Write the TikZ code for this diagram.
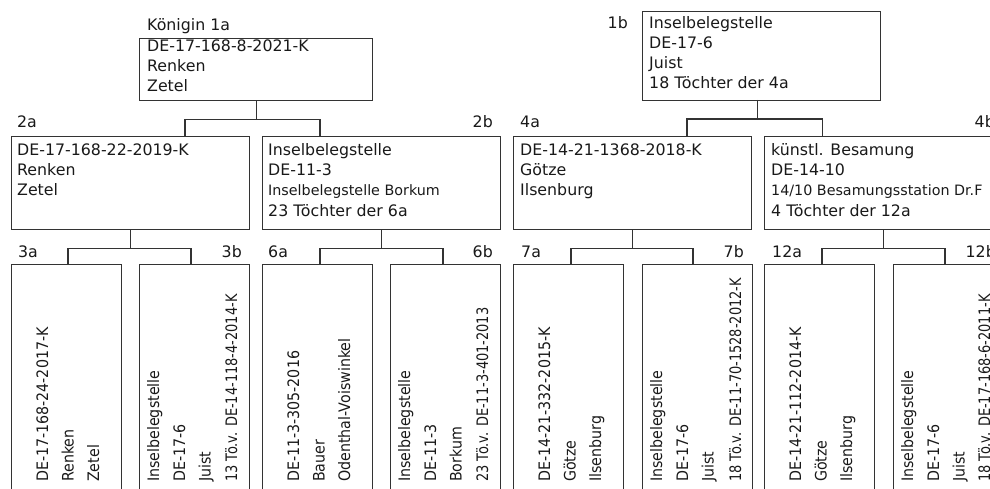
\documentclass[tikz,border=0pt]{standalone}
\usepackage{fontspec}
\usepackage{graphicx}
\setmainfont{DejaVu Sans}
\newcommand\msz{\fontsize{15.8}{20}\selectfont}
\newcommand\ssz{\fontsize{14.3}{20}\selectfont}
\newcommand\hsc[2]{\scalebox{#1}[1]{#2}}
\begin{document}
\begin{tikzpicture}[x=1pt,y=-1pt,
  box/.style={draw=black!80, line width=1.3pt, inner sep=0pt, anchor=north west},
  wbox/.style={box, minimum width=238pt, minimum height=93pt},
  nbox/.style={box, minimum width=110pt, minimum height=260pt},
  conn/.style={draw=black!80, line width=1.3pt},
  lbl/.style={anchor=base west, inner sep=0pt, font=\msz, text=black!90},
  lble/.style={anchor=base east, inner sep=0pt, font=\msz, text=black!90},
  rot/.style={rotate=90, anchor=base west, inner sep=0pt, font=\msz, text=black!90}]
\useasboundingbox (0,0) rectangle (990,489);
\clip (0,0) rectangle (990,489);

% ---------- boxes ----------
\node[box, minimum width=233pt, minimum height=62pt] (b1a) at (139,38) {};
\node[box, minimum width=238pt, minimum height=89pt] (b1b) at (642,11) {};
\node[wbox] (b2a) at (11,136) {};
\node[wbox] (b2b) at (262,136) {};
\node[wbox] (b4a) at (513,136) {};
\node[wbox] (b4b) at (764,136) {};
\node[nbox] (b3a) at (11,264) {};
\node[nbox] (b3b) at (139,264) {};
\node[nbox] (b6a) at (262,264) {};
\node[nbox] (b6b) at (390,264) {};
\node[nbox] (b7a) at (513,264) {};
\node[nbox] (b7b) at (642,264) {};
\node[nbox] (b12a) at (764,264) {};
\node[nbox] (b12b) at (893,264) {};

% ---------- connectors ----------
\coordinate (a2a) at (185,136); \coordinate (a2b) at (320,136);
\draw[conn] (b1a.south) -- ++(0,18) coordinate (j1a);
\draw[conn] (a2a) |- (j1a) -| (a2b);

\coordinate (s1b) at (757.5,100);
\coordinate (a4a) at (687,136); \coordinate (a4b) at (822.5,136);
\draw[conn] (s1b) -- ++(0,19) coordinate (j1b);
\draw[conn] (a4a) |- (j1b) -| (a4b);

\coordinate (a3a) at (68,264); \coordinate (a3b) at (191,264);
\draw[conn] (b2a.south) -- ++(0,18) coordinate (j2a);
\draw[conn] (a3a) |- (j2a) -| (a3b);

\coordinate (a6a) at (320,264); \coordinate (a6b) at (443,264);
\draw[conn] (b2b.south) -- ++(0,18) coordinate (j2b);
\draw[conn] (a6a) |- (j2b) -| (a6b);

\coordinate (a7a) at (571,264); \coordinate (a7b) at (693,264);
\draw[conn] (b4a.south) -- ++(0,18) coordinate (j4a);
\draw[conn] (a7a) |- (j4a) -| (a7b);

\coordinate (a12a) at (822,264); \coordinate (a12b) at (945,264);
\draw[conn] (b4b.south) -- ++(0,18) coordinate (j4b);
\draw[conn] (a12a) |- (j4b) -| (a12b);

% ---------- level 1 ----------
\node[lbl] (l1a) at (147,31) {Königin 1a};
\node[lbl] (t1a1) at (147,52) {DE-17-168-8-2021-K};
\node[lbl] (t1a2) at (147,72) {Renken};
\node[lbl] (t1a3) at (147,92) {Zetel};

\node[lble] (l1b) at (628,29) {1b};
\node[lbl] (t1b1) at (649,29) {Inselbelegstelle};
\node[lbl] (t1b2) at (649,49) {DE-17-6};
\node[lbl] (t1b3) at (649,69) {Juist};
\node[lbl] (t1b4) at (649,89) {18 Töchter der 4a};

% ---------- level 2 ----------
\node[lbl] (l2a) at (17,128) {2a};
\node[lbl] (t2a1) at (17,156) {DE-17-168-22-2019-K};
\node[lbl] (t2a2) at (17,176) {Renken};
\node[lbl] (t2a3) at (17,196) {Zetel};

\node[lble] (l2b) at (493,128) {2b};
\node[lbl] (t2b1) at (268,156) {Inselbelegstelle};
\node[lbl] (t2b2) at (268,176) {DE-11-3};
\node[lbl, font=\ssz] (t2b3) at (268,196) {Inselbelegstelle Borkum};
\node[lbl] (t2b4) at (268,216) {23 Töchter der 6a};

\node[lbl] (l4a) at (520,128) {4a};
\node[lbl] (t4a1) at (520,156) {DE-14-21-1368-2018-K};
\node[lbl] (t4a2) at (520,176) {Götze};
\node[lbl] (t4a3) at (520,196) {Ilsenburg};

\node[lble] (l4b) at (995,128) {4b};
\node[lbl] (t4b1) at (771,156) {künstl. Besamung};
\node[lbl] (t4b2) at (771,176) {DE-14-10};
\node[lbl, font=\ssz] (t4b3) at (771,196) {14/10 Besamungsstation Dr.F};
\node[lbl] (t4b4) at (771,216) {4 Töchter der 12a};

% ---------- level 3 labels ----------
\node[lbl] (l3a) at (18,257) {3a};
\node[lble] (l3b) at (242,257) {3b};
\node[lbl] (l6a) at (268,257) {6a};
\node[lble] (l6b) at (493,257) {6b};
\node[lbl] (l7a) at (521,257) {7a};
\node[lble] (l7b) at (744,257) {7b};
\node[lbl] (l12a) at (772,257) {12a};
\node[lble] (l12b) at (996,257) {12b};

% ---------- level 3 rotated texts ----------
\node[rot] (r3a1) at (48,482) {\hsc{0.9}{DE-17-168-24-2017-K}};
\node[rot] (r3a2) at (73.5,482) {\hsc{0.9}{Renken}};
\node[rot] (r3a3) at (99,482) {\hsc{0.9}{Zetel}};

\node[rot] (r3b1) at (159,482) {\hsc{0.9}{Inselbelegstelle}};
\node[rot] (r3b2) at (185,482) {\hsc{0.9}{DE-17-6}};
\node[rot] (r3b3) at (210.5,482) {\hsc{0.9}{Juist}};
\node[rot] (r3b4) at (237,482) {\hsc{0.82}{13 Tö.v. DE-14-118-4-2014-K}};

\node[rot] (r6a1) at (299,482) {\hsc{0.9}{DE-11-3-305-2016}};
\node[rot] (r6a2) at (324.5,482) {\hsc{0.9}{Bauer}};
\node[rot] (r6a3) at (350,482) {\hsc{0.9}{Odenthal-Voiswinkel}};

\node[rot] (r6b1) at (410,482) {\hsc{0.9}{Inselbelegstelle}};
\node[rot] (r6b2) at (436,482) {\hsc{0.9}{DE-11-3}};
\node[rot] (r6b3) at (461.5,482) {\hsc{0.9}{Borkum}};
\node[rot] (r6b4) at (488,482) {\hsc{0.82}{23 Tö.v. DE-11-3-401-2013}};

\node[rot] (r7a1) at (550,482) {\hsc{0.9}{DE-14-21-332-2015-K}};
\node[rot] (r7a2) at (575.5,482) {\hsc{0.9}{Götze}};
\node[rot] (r7a3) at (601,482) {\hsc{0.9}{Ilsenburg}};

\node[rot] (r7b1) at (662,482) {\hsc{0.9}{Inselbelegstelle}};
\node[rot] (r7b2) at (688,482) {\hsc{0.9}{DE-17-6}};
\node[rot] (r7b3) at (713.5,482) {\hsc{0.9}{Juist}};
\node[rot] (r7b4) at (741,482) {\hsc{0.82}{18 Tö.v. DE-11-70-1528-2012-K}};

\node[rot] (r12a1) at (801,482) {\hsc{0.9}{DE-14-21-112-2014-K}};
\node[rot] (r12a2) at (826.5,482) {\hsc{0.9}{Götze}};
\node[rot] (r12a3) at (852,482) {\hsc{0.9}{Ilsenburg}};

\node[rot] (r12b1) at (913,482) {\hsc{0.9}{Inselbelegstelle}};
\node[rot] (r12b2) at (939,482) {\hsc{0.9}{DE-17-6}};
\node[rot] (r12b3) at (964.5,482) {\hsc{0.9}{Juist}};
\node[rot] (r12b4) at (990,482) {\hsc{0.82}{18 Tö.v. DE-17-168-6-2011-K}};
\end{tikzpicture}
\end{document}
